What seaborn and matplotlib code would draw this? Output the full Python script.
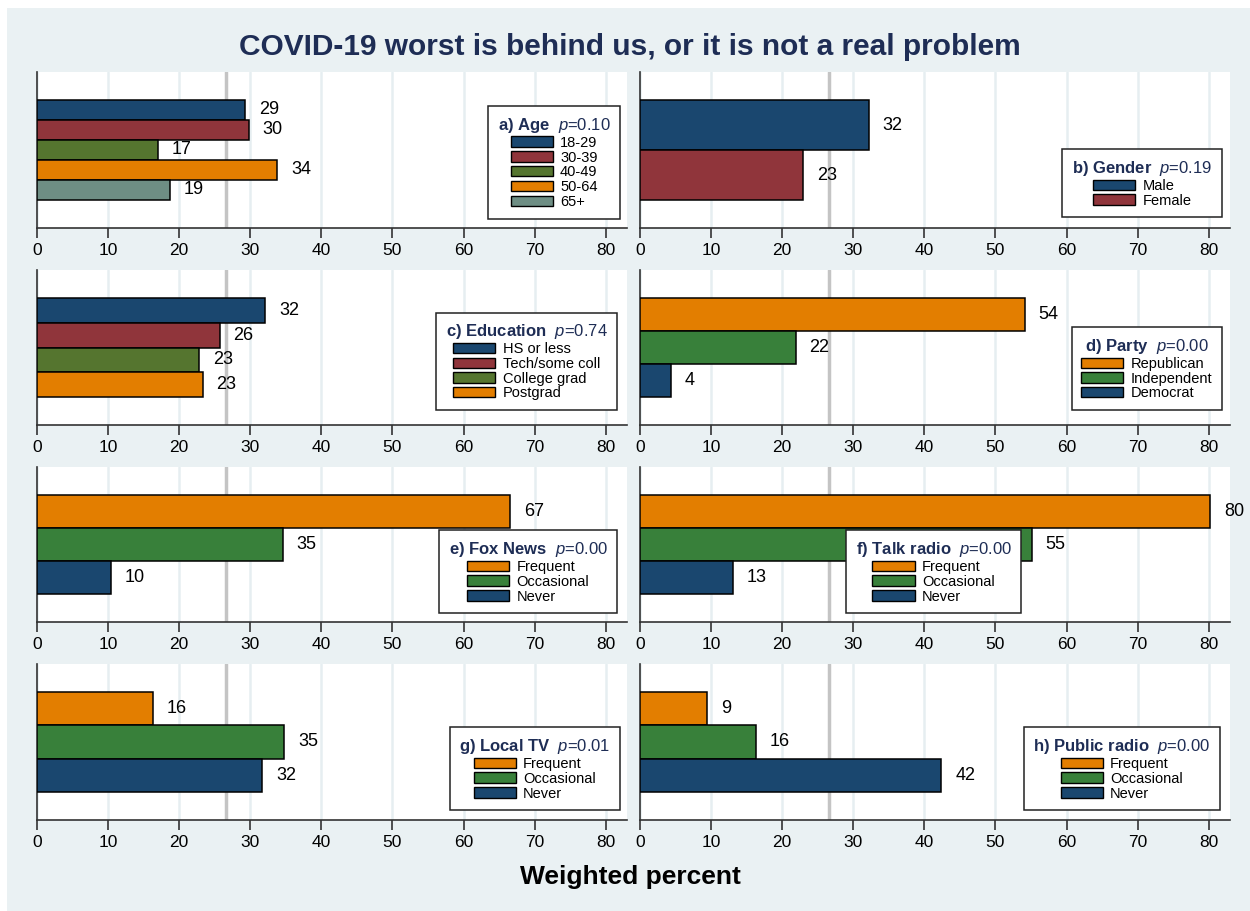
import pandas as pd
import matplotlib.pyplot as plt
import seaborn as sns
from matplotlib.patches import Rectangle

# data (weighted percent)
age_labels = ["18-29", "30-39", "40-49", "50-64", "65+"]
age_vals = [29.3, 29.8, 17.0, 33.8, 18.7]
gender_labels = ["Male", "Female"]
gender_vals = [32.2, 22.9]
edu_labels = ["HS or less", "Tech/some coll", "College grad", "Postgrad"]
edu_vals = [32.1, 25.7, 22.8, 23.3]
party_labels = ["Republican", "Independent", "Democrat"]
party_vals = [54.1, 21.9, 4.3]
media_labels = ["Frequent", "Occasional", "Never"]
fox_vals = [66.6, 34.6, 10.4]
talk_vals = [80.2, 55.1, 13.1]
localtv_vals = [16.3, 34.8, 31.7]
pubradio_vals = [9.4, 16.3, 42.4]

titles = ["a) Age", "b) Gender", "c) Education", "d) Party",
          "e) Fox News", "f) Talk radio", "g) Local TV", "h) Public radio"]
pvals = ["0.10", "0.19", "0.74", "0.00", "0.00", "0.00", "0.01", "0.00"]
ref_value = 26.6

navy = "#1A476F"
maroon = "#90353B"
olive = "#55752F"
orange = "#E37E00"
teal = "#6E8E84"
green = "#38803A"

panels = [
    (age_labels, age_vals, [navy, maroon, olive, orange, teal]),
    (gender_labels, gender_vals, [navy, maroon]),
    (edu_labels, edu_vals, [navy, maroon, olive, orange]),
    (party_labels, party_vals, [orange, green, navy]),
    (media_labels, fox_vals, [orange, green, navy]),
    (media_labels, talk_vals, [orange, green, navy]),
    (media_labels, localtv_vals, [orange, green, navy]),
    (media_labels, pubradio_vals, [orange, green, navy]),
]

# legend anchor (axes fraction, lower right corner)
leg_anchor = [(0.988, 0.06), (0.986, 0.07), (0.983, 0.097), (0.986, 0.097),
              (0.983, 0.058), (0.646, 0.058), (0.988, 0.064), (0.983, 0.064)]

sns.set_theme(style="white")
plt.rcParams["font.family"] = ["Liberation Sans", "DejaVu Sans"]
plt.rcParams["mathtext.fontset"] = "custom"
plt.rcParams["mathtext.rm"] = "Liberation Sans"
plt.rcParams["mathtext.bf"] = "Liberation Sans:bold"
plt.rcParams["mathtext.it"] = "Liberation Sans:italic"
plt.rcParams["text.color"] = "black"
plt.rcParams["xtick.color"] = "black"
plt.rcParams["axes.labelcolor"] = "black"

W, H = 1250, 911
fig = plt.figure(figsize=(12.5, 9.11), dpi=100, facecolor="white")
fig.patches.append(Rectangle((7 / W, 0), 1, 1 - 8 / H, transform=fig.transFigure,
                             facecolor="#EAF1F3", edgecolor="none", zorder=-10))

col_x = [37, 640]
row_y = [(72, 228), (270, 425), (467, 622), (664, 820)]
title_col = "#1E2D55"

for i, (labels, vals, cols) in enumerate(panels):
    r, c = divmod(i, 2)
    top, bot = row_y[r]
    ax = fig.add_axes([col_x[c] / W, 1 - bot / H, 590 / W, (bot - top) / H])
    df = pd.DataFrame({"group": labels, "value": vals})
    sns.barplot(data=df, x="value", y="group", hue="group", palette=cols,
                saturation=1, orient="h", width=1.0, edgecolor="black",
                linewidth=1.1, legend=True, ax=ax, zorder=3)
    n = len(labels)
    pad = n * 0.28
    ax.set_ylim(n - 0.5 + pad, -0.5 - pad)
    ax.set_xlim(0, 83)
    ax.set_xticks(range(0, 81, 10))
    ax.set_yticks([])
    ax.set_xlabel("")
    ax.set_ylabel("")
    ax.grid(axis="x", color="#E6EEF1", linewidth=1.8, zorder=0)
    ax.axvline(ref_value, color="#C4C4C4", linewidth=2.5, zorder=1)
    for side in ["top", "right"]:
        ax.spines[side].set_visible(False)
    for side in ["left", "bottom"]:
        ax.spines[side].set_color("#333333")
        ax.spines[side].set_linewidth(1.2)
    ax.tick_params(axis="x", direction="out", length=7, width=1.2,
                   color="#333333", labelcolor="black", labelsize=12.5,
                   pad=4, bottom=True)
    for cont in ax.containers:
        ax.bar_label(cont, fmt="%.0f", padding=10, fontsize=13, color="black")

    handles, hl = ax.get_legend_handles_labels()
    ttl = r"$\mathbf{" + titles[i].replace(" ", r"\ ") + r"}$  $\mathit{p}$=" + pvals[i]
    leg = ax.legend(handles, hl, title=ttl, loc="lower right",
                    bbox_to_anchor=leg_anchor[i], fontsize=10.5,
                    title_fontsize=12, frameon=True, fancybox=False,
                    edgecolor="#222222", framealpha=1, handlelength=2.9,
                    handleheight=0.7, labelspacing=0.06, handletextpad=0.5,
                    borderpad=0.65, borderaxespad=0)
    leg.get_frame().set_linewidth(1.1)
    leg.get_title().set_color(title_col)
    for h in leg.legend_handles:
        h.set_edgecolor("black")
        h.set_linewidth(1.0)
    for t in leg.get_texts():
        t.set_color("black")
    leg.set_zorder(5)

fig.text(0.504, 1 - 47 / H, "COVID-19 worst is behind us, or it is not a real problem",
         ha="center", va="center", fontsize=21.5, fontweight="bold", color=title_col)
fig.text(0.504, 1 - 877 / H, "Weighted percent", ha="center", va="center",
         fontsize=19, fontweight="bold", color="black")

plt.savefig("out.png", dpi=100, facecolor="white")
